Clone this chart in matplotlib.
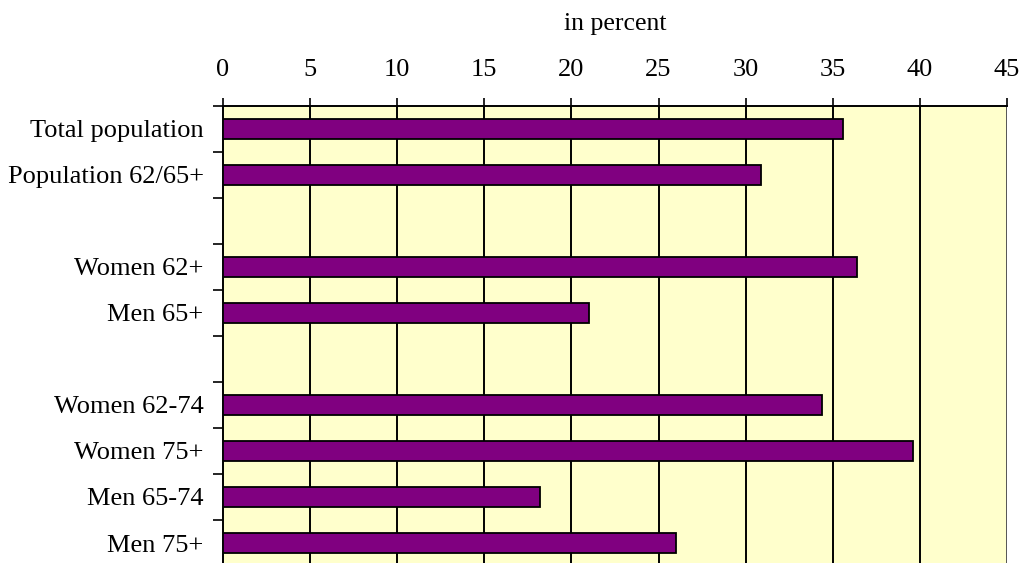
import matplotlib.pyplot as plt
import numpy as np

plt.rcParams['font.family'] = ['Liberation Serif', 'DejaVu Serif']

# categories top to bottom, "" marks an empty gap row
categories = ['Total population', 'Population 62/65+', '',
              'Women 62+', 'Men 65+', '',
              'Women 62-74', 'Women 75+', 'Men 65-74', 'Men 75+']
values = [35.6, 30.9, None, 36.4, 21.0, None, 34.4, 39.6, 18.2, 26.0]
x_ticks = [0, 5, 10, 15, 20, 25, 30, 35, 40, 45]

fig = plt.figure(figsize=(10.25, 5.63), dpi=100)
ax = fig.add_axes([223 / 1025, -3 / 563, 784 / 1025, 460 / 563])
ax.set_facecolor('#FFFFCC')

n = len(categories)
pos = np.arange(n)
for p, v in zip(pos, values):
    if v is None:
        continue
    ax.barh(p, v, height=0.42, color='#800080', edgecolor='black',
            linewidth=1.3, zorder=3)

ax.set_xlim(0, 45)
ax.set_ylim(n - 0.5, -0.5)

# x axis on top
ax.xaxis.tick_top()
ax.xaxis.set_label_position('top')
ax.set_xticks(x_ticks)
ax.set_xticklabels([str(t) for t in x_ticks], fontsize=19)
ax.tick_params(axis='x', direction='out', length=6, width=1.2, pad=12)
ax.set_xlabel('in percent', fontsize=18.5, labelpad=21)
for t in x_ticks[1:-1]:
    ax.axvline(t, color='black', linewidth=1.4, zorder=2)
ax.axvline(45, color='#555555', linewidth=1.4, zorder=2)

# y ticks at row boundaries, labels at row centers
ax.set_yticks(np.arange(n + 1) - 0.5)
ax.set_yticklabels([])
ax.tick_params(axis='y', direction='out', length=7, width=1.2)
ax.set_yticks(pos, minor=True)
ax.set_yticklabels(categories, minor=True, fontsize=19)
ax.tick_params(axis='y', which='minor', length=0, pad=14)

for side in ['right', 'bottom']:
    ax.spines[side].set_visible(False)
ax.spines['left'].set_linewidth(1.4)
ax.spines['top'].set_linewidth(1.4)

fig.savefig('out.png', dpi=100)
